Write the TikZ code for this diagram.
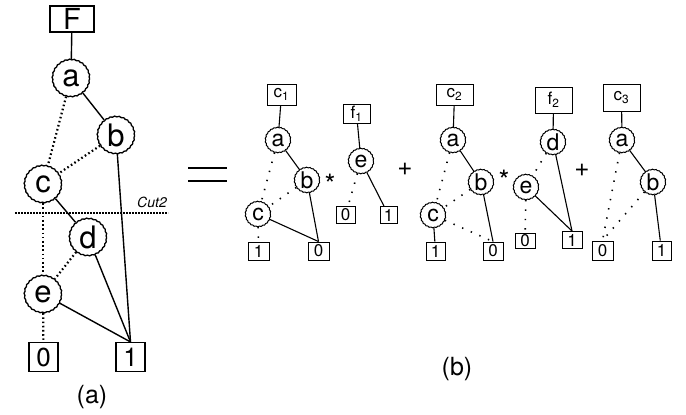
\documentclass[tikz,border=0pt]{standalone}
\usepackage{fontspec}
\setmainfont{TeX Gyre Heros}
\usetikzlibrary{decorations.pathmorphing}
\tikzstyle{var} = [circle, draw, inner sep=0pt, minimum size=37pt, line width=1.3pt,
    decorate, decoration={zigzag, segment length=4.5pt, amplitude=0.4pt}, font=\fontsize{31}{31}\selectfont]
\tikzstyle{svar} = [var, minimum size=25pt, line width=1pt,
    decoration={zigzag, segment length=3.5pt, amplitude=0.35pt}, font=\fontsize{23}{23}\selectfont]
\tikzstyle{term} = [rectangle, draw, inner sep=0pt, line width=1.1pt, font=\fontsize{26}{26}\selectfont]
\tikzstyle{sterm} = [term, line width=0.9pt, font=\fontsize{17}{17}\selectfont]
\tikzstyle{star} = [font=\fontsize{28}{28}\selectfont, inner sep=0pt]
\tikzstyle{hi} = [line width=1.4pt]
\tikzstyle{lo} = [line width=2.2pt, dash pattern=on 1.6pt off 2.6pt]
\tikzstyle{shi} = [line width=1.1pt]
\tikzstyle{slo} = [line width=1.6pt, dash pattern=on 1.4pt off 8pt]

\begin{document}
\begin{tikzpicture}[x=1pt, y=-1pt]
  \useasboundingbox (0,0) rectangle (686,415);

  % (a) the whole diagram
  \node (F)  [term, minimum width=44pt, minimum height=26pt, font=\fontsize{29}{29}\selectfont] at (72,19) {F};
  \node (a)  [var] at (71,78)  {a};
  \node (b)  [var] at (116,135) {b};
  \node (c)  [var] at (43,184)  {c};
  \node (d)  [var] at (88,237)  {d};
  \node (e)  [var] at (43,294)  {e};
  \node (t0) [term, minimum size=29pt] at (43.5,357) {0};
  \node (t1) [term, minimum size=29pt] at (130.5,357) {1};

  \draw[hi] (F) -- (a);
  \draw[hi] (a) -- (b);
  \draw[lo] (a) -- (c);
  \draw[lo] (b) -- (c);
  \draw[hi] (b) -- (t1.north);
  \draw[hi] (c) -- (d);
  \draw[lo] (c) -- (e);
  \draw[lo] (d) -- (e);
  \draw[hi] (d) -- (t1.north);
  \draw[hi] (e) -- (t1.north);
  \draw[lo] (e) -- (t0);

  \coordinate (cutL) at (15,213);
  \coordinate (cutR) at (168,213);
  \draw[line width=2.2pt, dash pattern=on 1.6pt off 1.4pt] (cutL) -- (cutR);
  \node (cut) [font=\fontsize{14}{14}\selectfont\itshape, anchor=south east, inner sep=1pt] at (168,209) {Cut2};
  \node (lba) [font=\fontsize{25}{25}\selectfont] at (92,397) {(a)};

  % equals sign
  \draw[line width=1.3pt] (188,168) -- (227,168);
  \draw[line width=1.3pt] (188,181) -- (227,181);

  % (b) first product
  \node (c1)  [sterm, minimum width=29pt, minimum height=21pt] at (281.5,94.5) {c\textsubscript{1}};
  \node (a1)  [svar] at (278,140) {a};
  \node (b1)  [svar] at (307,180) {b};
  \node (st1) [star] at (330,184) {*};
  \node (c1n) [svar] at (258,214) {c};
  \node (o1)  [sterm, minimum width=21pt, minimum height=18pt] at (258.5,251) {1};
  \node (z1)  [sterm, minimum width=21pt, minimum height=18pt] at (318.5,251) {0};

  \draw[shi] (c1) -- (a1);
  \draw[shi] (a1) -- (b1);
  \draw[slo] (a1) -- (c1n);
  \draw[slo] (b1) -- (c1n);
  \draw[shi] (c1n) -- (z1.north);
  \draw[shi] (b1) -- (z1.north);
  \draw[slo] (c1n) -- (o1);

  \node (f1)  [sterm, minimum width=27pt, minimum height=19pt] at (356.5,113.5) {f\textsubscript{1}};
  \node (e1)  [svar] at (361,161) {e};
  \node (z1b) [sterm, minimum width=19pt, minimum height=17pt] at (345.5,215) {0};
  \node (o1b) [sterm, minimum width=17pt, minimum height=17pt] at (388.5,215) {1};

  \draw[shi] (f1) -- (e1);
  \draw[slo] (e1) -- (z1b);
  \draw[shi] (e1) -- (o1b);

  \node (p1) [font=\fontsize{26}{26}\selectfont] at (405,169) {+};

  % (b) second product
  \node (c2)  [sterm, minimum width=37pt, minimum height=21pt] at (454.5,94.5) {c\textsubscript{2}};
  \node (a2)  [svar] at (453,140) {a};
  \node (b2)  [svar] at (481,182) {b};
  \node (st2) [star] at (504,180) {*};
  \node (c2n) [svar] at (433,215) {c};
  \node (o2)  [sterm, minimum width=19pt, minimum height=18pt] at (435.5,251) {1};
  \node (z2)  [sterm, minimum width=20pt, minimum height=18pt] at (493,251) {0};

  \draw[shi] (c2) -- (a2);
  \draw[shi] (a2) -- (b2);
  \draw[slo] (a2) -- (c2n);
  \draw[slo] (b2) -- (c2n);
  \draw[shi] (c2n) -- (o2);
  \draw[slo] (c2n) -- (z2.north);
  \draw[shi] (b2) -- (z2.north);

  \node (f2)  [sterm, minimum width=37pt, minimum height=26pt] at (553.5,100) {f\textsubscript{2}};
  \node (d2)  [svar] at (553,142) {d};
  \node (e2)  [svar] at (526,187) {e};
  \node (z2b) [sterm, minimum width=20pt, minimum height=15pt] at (525,241) {0};
  \node (o2b) [sterm, minimum width=20pt, minimum height=17pt] at (572,240) {1};

  \draw[shi] (f2) -- (d2);
  \draw[slo] (d2) -- (e2);
  \draw[shi] (d2) -- (o2b.north);
  \draw[shi] (e2) -- (o2b.north);
  \draw[slo] (e2) -- (z2b);

  \node (p2) [font=\fontsize{26}{26}\selectfont] at (582,170) {+};

  % (b) third product
  \node (c3)  [sterm, minimum width=37pt, minimum height=27pt] at (621.5,97.5) {c\textsubscript{3}};
  \node (a3)  [svar] at (622,140) {a};
  \node (b3)  [svar] at (653,182) {b};
  \node (z3)  [sterm, minimum width=21pt, minimum height=19pt] at (602.5,250.5) {0};
  \node (o3)  [sterm, minimum width=19pt, minimum height=19pt] at (661.5,250.5) {1};

  \draw[shi] (c3) -- (a3);
  \draw[shi] (a3) -- (b3);
  \draw[slo] (a3) -- (z3.north);
  \draw[slo] (b3) -- (z3.north);
  \draw[shi] (b3) -- (o3);

  \node (lbb) [font=\fontsize{25}{25}\selectfont] at (457,369) {(b)};
\end{tikzpicture}
\end{document}
